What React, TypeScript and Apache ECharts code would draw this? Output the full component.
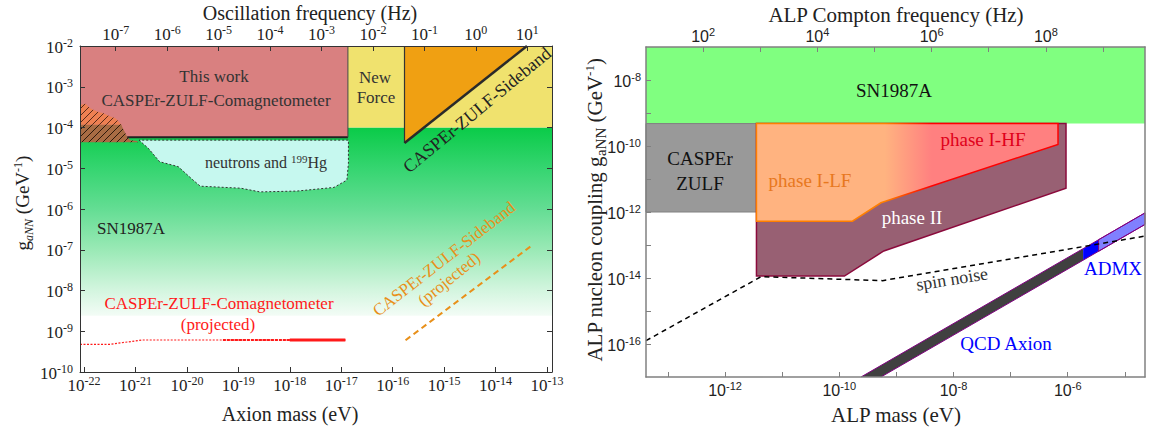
import React, { useEffect, useRef } from 'react';
import * as echarts from 'echarts';

// log10(1/h) with h in eV*s : frequency axis offset
const LOG_HZ_PER_EV = 14.3834;

// ---------- LEFT PANEL (log10 values) ----------
const L_X_MIN = -22.078;
const L_X_MAX = -12.903;
const L_Y_MIN = -10;
const L_Y_MAX = -2;
const L_X_TICKS = [-22, -21, -20, -19, -18, -17, -16, -15, -14, -13];
const L_Y_TICKS = [-10, -9, -8, -7, -6, -5, -4, -3, -2];
const L_TOP_TICKS = [-7, -6, -5, -4, -3, -2, -1, 0, 1];

const snLeft = [[-22.078, -4], [-12.903, -4], [-12.903, -8.62], [-22.078, -8.62]];
const thisWork = [[-22.078, -2], [-16.87, -2], [-16.87, -4.24], [-22.078, -4.24]];
const newForce = [[-16.87, -2], [-12.903, -2], [-12.903, -4], [-16.87, -4]];
const sidebandExcluded = [[-15.77, -2], [-13.39, -2], [-15.77, -4.38]];
const sidebandEdge = [[-15.77, -4.38], [-13.39, -2]];
const sidebandLeftEdge = [[-15.77, -2], [-15.77, -4.38]];
const thisWorkRightEdge = [[-16.87, -2], [-16.87, -4.24]];
const thisWorkBottomEdge = [[-21.16, -4.24], [-16.87, -4.24]];
const neutronsHg = [
  [-20.93, -4.31], [-20.75, -4.51], [-20.53, -4.84], [-20.17, -4.96], [-19.88, -5.29],
  [-19.74, -5.44], [-18.95, -5.49], [-18.58, -5.58], [-17.86, -5.56], [-17.14, -5.47],
  [-16.89, -5.29], [-16.86, -4.88], [-16.86, -4.31],
];
const hatchUpper = [
  [-22.078, -3.45], [-21.97, -3.42], [-21.88, -3.53], [-21.75, -3.61], [-21.62, -3.65],
  [-21.49, -3.73], [-21.39, -3.77], [-21.27, -3.93], [-22.078, -3.93],
];
const hatchLower = [
  [-22.078, -3.93], [-21.27, -3.93], [-21.26, -3.98], [-21.16, -4.23], [-21.1, -4.31],
  [-20.97, -4.33], [-20.95, -4.36], [-22.078, -4.36],
];
const comagProjected = [[-22.078, -9.32], [-21.49, -9.32], [-20.87, -9.215], [-16.92, -9.215]];
const comagProjectedMid = [[-19.3, -9.215], [-16.92, -9.215]];
const comagProjectedDense = [[-18.0, -9.215], [-16.92, -9.215]];
const sidebandProjected = [[-15.75, -9.22], [-13.28, -6.88]];

// ---------- RIGHT PANEL (log10 values) ----------
const R_X_MIN = -13.384;
const R_X_MAX = -4.647;
const R_Y_MIN = -17;
const R_Y_MAX = -7;
const R_X_LABELS = [-12, -10, -8, -6];
const R_X_TICKS = [-13, -12, -11, -10, -9, -8, -7, -6, -5];
const R_Y_LABELS = [-16, -14, -12, -10, -8];
const R_Y_TICKS = [-16, -15, -14, -13, -12, -11, -10, -9, -8];
const R_TOP_LABELS = [2, 4, 6, 8];
const R_TOP_TICKS = [2, 3, 4, 5, 6, 7, 8, 9];

const snRight = [[-13.384, -7], [-4.647, -7], [-4.647, -9.32], [-13.384, -9.32]];
const casperZulf = [[-13.384, -9.32], [-11.45, -9.32], [-11.45, -12], [-13.384, -12]];
const phaseII = [[-11.45, -9.32], [-11.45, -13.94], [-9.91, -13.94], [-9.22, -13.18], [-6.03, -11.28], [-6.03, -9.32]];
const phaseI = [[-11.45, -9.32], [-11.45, -12.28], [-9.77, -12.28], [-9.27, -11.72], [-6.17, -9.95], [-6.17, -9.32]];
const phaseIFade = [-9.2, -8.38]; // orange -> red transition (log mass)
const spinNoise = [[-13.384, -15.9], [-11.37, -13.96], [-9.24, -14.08], [-4.647, -12.73]];
const QCD_UPPER = -7.38; // log g = log m + offset
const QCD_LOWER = -7.73;
const qcdSegments = [
  { from: null, to: -5.73, color: '#404040' },
  { from: -5.73, to: -5.46, color: '#0000ff' },
  { from: -5.46, to: -4.647, color: '#8080ff' },
];

const SERIF = '"Liberation Serif", "Times New Roman", serif';
const SANS = '"Liberation Sans", Arial, sans-serif';

function makeHatch(bg: string, line: string) {
  const c = document.createElement('canvas');
  c.width = 7; c.height = 7;
  const ctx = c.getContext('2d')!;
  ctx.fillStyle = bg; ctx.fillRect(0, 0, 7, 7);
  ctx.strokeStyle = line; ctx.lineWidth = 1;
  ctx.beginPath();
  ctx.moveTo(-1, 8); ctx.lineTo(8, -1);
  ctx.moveTo(-1, 1); ctx.lineTo(1, -1);
  ctx.moveTo(6, 8); ctx.lineTo(8, 6);
  ctx.stroke();
  return c.toDataURL();
}

function poly(xi: number, yi: number, pts: number[][], style: any, z: number) {
  return {
    type: 'custom', xAxisIndex: xi, yAxisIndex: yi, z, silent: true,
    data: [pts[0]],
    renderItem: (_p: any, api: any) => ({
      type: 'polygon',
      shape: { points: pts.map((p) => api.coord(p)) },
      style,
    }),
  };
}

function line(xi: number, yi: number, pts: number[][], lineStyle: any, z: number) {
  return {
    type: 'line', xAxisIndex: xi, yAxisIndex: yi, z, silent: true,
    data: pts, showSymbol: false, symbol: 'none', lineStyle,
  };
}

const leftRich = {
  b: { fontSize: 17, fontFamily: SERIF, color: '#222', verticalAlign: 'bottom' },
  s: { fontSize: 12, fontFamily: SERIF, color: '#222', verticalAlign: 'bottom', padding: [0, 0, 7, 0] },
};
const rightRich = {
  b: { fontSize: 16, fontFamily: SANS, color: '#222', verticalAlign: 'bottom' },
  s: { fontSize: 11, fontFamily: SANS, color: '#222', verticalAlign: 'bottom', padding: [0, 0, 7, 0] },
};
const supFmt = (v: number) => `{b|10}{s|${Math.round(v)}}`;

function axis(base: any, ticks: number[], labels: number[] | null, rich: any, margin: number, lineColor: string, lineWidth: number) {
  return {
    type: 'value', z: 10,
    ...base,
    axisLine: { show: true, onZero: false, lineStyle: { color: lineColor, width: lineWidth } },
    axisTick: { show: true, inside: true, length: 5, customValues: ticks, lineStyle: { color: lineColor } },
    axisLabel: labels
      ? { show: true, customValues: labels, formatter: supFmt, rich, margin }
      : { show: false },
    splitLine: { show: false },
  };
}

function txt(x: number, y: number, text: string, size: number, color: string, extra: any = {}, family = SERIF) {
  return {
    type: 'text', x, y, z: 100, silent: true,
    rotation: extra.rotation || 0,
    style: {
      text, fill: color, font: `${size}px ${family}`,
      fontSize: size, fontFamily: family,
      align: 'center', verticalAlign: 'middle', textAlign: 'center', textVerticalAlign: 'middle',
    },
  };
}

export default function App() {
  const ref = useRef<HTMLDivElement>(null);
  useEffect(() => {
    if (!ref.current) return;
    const chart = echarts.init(ref.current, undefined, { renderer: 'svg' });

    const hatchOrange = { image: makeHatch('#ee8052', '#5a2a18'), repeat: 'repeat' };
    const hatchBrown = { image: makeHatch('#a86c44', '#2e1a0c'), repeat: 'repeat' };

    const fadeA = (phaseIFade[0] - phaseI[0][0]) / (phaseI[4][0] - phaseI[0][0]);
    const fadeB = (phaseIFade[1] - phaseI[0][0]) / (phaseI[4][0] - phaseI[0][0]);
    const phaseIFill = new echarts.graphic.LinearGradient(0, 0, 1, 0, [
      { offset: 0, color: '#ffb380' }, { offset: fadeA, color: '#ffb380' },
      { offset: fadeB, color: '#ff8080' }, { offset: 1, color: '#ff8080' },
    ]);
    const phaseIStroke = new echarts.graphic.LinearGradient(0, 0, 1, 0, [
      { offset: 0, color: '#ff7f00' }, { offset: fadeA, color: '#ff7f00' },
      { offset: fadeB, color: '#ff0000' }, { offset: 1, color: '#ff0000' },
    ]);
    const greenFill = new echarts.graphic.LinearGradient(0, 0, 0, 1, [
      { offset: 0, color: '#0acb48' }, { offset: 0.215, color: '#35d570' },
      { offset: 0.43, color: '#63dd93' }, { offset: 0.645, color: '#99e9b5' },
      { offset: 0.86, color: '#d2f5de' }, { offset: 1, color: '#f3fcf6' },
    ]);

    const qcdPolys = qcdSegments.map((s) => {
      const a = s.from;
      const b = s.to;
      const pts = a === null
        ? [[R_Y_MIN - QCD_UPPER, R_Y_MIN], [b, b + QCD_UPPER], [b, b + QCD_LOWER], [R_Y_MIN - QCD_LOWER, R_Y_MIN]]
        : [[a, a + QCD_UPPER], [b, b + QCD_UPPER], [b, b + QCD_LOWER], [a, a + QCD_LOWER]];
      return poly(2, 2, pts, { fill: s.color, stroke: s.color === '#8080ff' ? '#800080' : null, lineWidth: 1 }, 4);
    });
    const qcdUpperEdge = [[R_Y_MIN - QCD_UPPER, R_Y_MIN], [R_X_MAX, R_X_MAX + QCD_UPPER]];
    const qcdLowerEdge = [[R_Y_MIN - QCD_LOWER, R_Y_MIN], [R_X_MAX, R_X_MAX + QCD_LOWER]];

    const option: any = {
      animation: false,
      backgroundColor: '#ffffff',
      grid: [
        { left: 80, top: 46, width: 472, height: 326, show: false },
        { left: 646, top: 47, width: 499, height: 330, show: false },
      ],
      xAxis: [
        axis({ gridIndex: 0, position: 'bottom', min: L_X_MIN, max: L_X_MAX }, L_X_TICKS, L_X_TICKS, leftRich, 3, '#333', 1),
        axis({ gridIndex: 0, position: 'top', min: L_X_MIN + LOG_HZ_PER_EV, max: L_X_MAX + LOG_HZ_PER_EV }, L_TOP_TICKS, L_TOP_TICKS, leftRich, 3, '#333', 1),
        axis({ gridIndex: 1, position: 'bottom', min: R_X_MIN, max: R_X_MAX }, R_X_TICKS, R_X_LABELS, rightRich, 3, '#808080', 1.5),
        axis({ gridIndex: 1, position: 'top', min: R_X_MIN + LOG_HZ_PER_EV, max: R_X_MAX + LOG_HZ_PER_EV }, R_TOP_TICKS, R_TOP_LABELS, rightRich, 3, '#808080', 1.5),
      ],
      yAxis: [
        axis({ gridIndex: 0, position: 'left', min: L_Y_MIN, max: L_Y_MAX }, L_Y_TICKS, L_Y_TICKS, leftRich, 7, '#333', 1),
        axis({ gridIndex: 0, position: 'right', min: L_Y_MIN, max: L_Y_MAX }, L_Y_TICKS, null, leftRich, 8, '#333', 1),
        axis({ gridIndex: 1, position: 'left', min: R_Y_MIN, max: R_Y_MAX }, R_Y_TICKS, R_Y_LABELS, rightRich, 5, '#808080', 1.5),
        axis({ gridIndex: 1, position: 'right', min: R_Y_MIN, max: R_Y_MAX }, [], null, rightRich, 5, '#808080', 1.5),
      ],
      series: [
        // left panel
        poly(0, 0, snLeft, { fill: greenFill }, 1),
        poly(0, 0, thisWork, { fill: '#d98080' }, 2),
        poly(0, 0, newForce, { fill: '#f0e26e' }, 2),
        poly(0, 0, sidebandExcluded, { fill: '#f0a012' }, 3),
        poly(0, 0, neutronsHg, { fill: '#c6f8ef', stroke: '#333', lineWidth: 1, lineDash: [2, 2] }, 3),
        poly(0, 0, hatchUpper, { fill: hatchOrange }, 4),
        poly(0, 0, hatchLower, { fill: hatchBrown }, 4),
        line(0, 0, thisWorkBottomEdge, { color: '#222', width: 2 }, 5),
        line(0, 0, thisWorkRightEdge, { color: '#444', width: 1 }, 5),
        line(0, 0, sidebandLeftEdge, { color: '#333', width: 1.2 }, 5),
        line(0, 0, sidebandEdge, { color: '#2a2a2a', width: 2.5 }, 5),
        line(0, 0, comagProjected, { color: '#ff1a1a', width: 1.2, type: [2, 1.5] }, 5),
        line(0, 0, comagProjectedMid, { color: '#ff1a1a', width: 1.8, type: [3, 1] }, 5),
        line(0, 0, comagProjectedDense, { color: '#ff1a1a', width: 2.8 }, 5),
        line(0, 0, sidebandProjected, { color: '#e8901a', width: 2, type: [6, 4] }, 5),
        // right panel
        poly(2, 2, snRight, { fill: '#80ff80' }, 1),
        poly(2, 2, casperZulf, { fill: '#999999', stroke: '#808080', lineWidth: 1 }, 2),
        poly(2, 2, phaseII, { fill: '#986073', stroke: '#8b0a3c', lineWidth: 1.5 }, 2),
        poly(2, 2, phaseI, { fill: phaseIFill, stroke: phaseIStroke, lineWidth: 1.5 }, 3),
        ...qcdPolys,
        line(2, 2, qcdUpperEdge, { color: '#800080', width: 1 }, 5),
        line(2, 2, qcdLowerEdge, { color: '#800080', width: 1 }, 5),
        line(2, 2, spinNoise, { color: '#000', width: 1.5, type: [5, 4] }, 6),
      ],
      graphic: {
        elements: [
          // left panel texts
          txt(310, 13, 'Oscillation frequency (Hz)', 20, '#222'),
          txt(290, 414, 'Axion mass (eV)', 20, '#222'),
          {
            type: 'text', x: 22, y: 203, rotation: Math.PI / 2, z: 100, silent: true,
            style: {
              text: '{n|g}{sub|aNN}{n| (GeV}{sup|-1}{n|)}',
              align: 'center', verticalAlign: 'middle', textAlign: 'center', textVerticalAlign: 'middle',
              rich: {
                n: { fontSize: 19, fontFamily: SERIF, fill: '#222', color: '#222', verticalAlign: 'bottom' },
                sub: { fontSize: 12, fontFamily: SERIF, fontStyle: 'italic', fill: '#222', color: '#222', verticalAlign: 'bottom', padding: [0, 0, -3, 0] },
                sup: { fontSize: 12, fontFamily: SERIF, fill: '#222', color: '#222', verticalAlign: 'bottom', padding: [0, 0, 8, 0] },
              },
            },
          },
          txt(214, 76, 'This work', 17, '#333'),
          txt(216, 100, 'CASPEr-ZULF-Comagnetometer', 17, '#333'),
          txt(375, 77, 'New', 17, '#333'),
          txt(376, 97, 'Force', 17, '#333'),
          txt(477, 110, 'CASPEr-ZULF-Sideband', 18, '#222', { rotation: 0.69 }),
          {
            type: 'text', x: 266, y: 162, z: 100, silent: true,
            style: {
              text: '{n|neutrons and }{sup|199}{n|Hg}',
              align: 'center', verticalAlign: 'middle', textAlign: 'center', textVerticalAlign: 'middle',
              rich: {
                n: { fontSize: 16, fontFamily: SERIF, fill: '#333', color: '#333', verticalAlign: 'bottom' },
                sup: { fontSize: 11, fontFamily: SERIF, fill: '#333', color: '#333', verticalAlign: 'bottom', padding: [0, 0, 6, 0] },
              },
            },
          },
          txt(131, 228, 'SN1987A', 17, '#222'),
          txt(219, 303, 'CASPEr-ZULF-Comagnetometer', 17, '#ff1a1a'),
          txt(218, 324, '(projected)', 17, '#ff1a1a'),
          txt(444, 259, 'CASPEr-ZULF-Sideband', 17, '#e8901a', { rotation: 0.66 }),
          txt(449, 279, '(projected)', 17, '#e8901a', { rotation: 0.68 }),
          // right panel texts
          txt(896, 15, 'ALP Compton frequency (Hz)', 21, '#222'),
          txt(896, 415, 'ALP mass (eV)', 21, '#222'),
          {
            type: 'text', x: 594, y: 210, rotation: Math.PI / 2, z: 100, silent: true,
            style: {
              text: '{n|ALP nucleon coupling g}{sub|aNN}{n| (GeV}{sup|-1}{n|)}',
              align: 'center', verticalAlign: 'middle', textAlign: 'center', textVerticalAlign: 'middle',
              rich: {
                n: { fontSize: 21, fontFamily: SERIF, fill: '#222', color: '#222', verticalAlign: 'bottom' },
                sub: { fontSize: 15, fontFamily: SERIF, fill: '#222', color: '#222', verticalAlign: 'bottom', padding: [0, 0, -3, 0] },
                sup: { fontSize: 13, fontFamily: SERIF, fill: '#222', color: '#222', verticalAlign: 'bottom', padding: [0, 0, 10, 0] },
              },
            },
          },
          txt(894, 90, 'SN1987A', 19, '#111'),
          txt(700, 158, 'CASPEr', 19, '#111'),
          txt(700, 183, 'ZULF', 19, '#111'),
          txt(810, 180, 'phase I-LF', 19, '#e8781e'),
          txt(983, 139, 'phase I-HF', 19, '#e0001a'),
          txt(912, 217, 'phase II', 19, '#ffffff'),
          txt(952, 279, 'spin noise', 18, '#333', { rotation: 0.16 }),
          txt(1113, 268, 'ADMX', 19, '#0000ff'),
          txt(1006, 343, 'QCD Axion', 19, '#0000ff'),
        ],
      },
    };

    chart.setOption(option);
    return () => chart.dispose();
  }, []);

  return (
    <div
      ref={ref}
      style={{ position: 'fixed', left: 0, top: 0, width: '1149px', height: '431px', background: '#fff' }}
    />
  );
}
